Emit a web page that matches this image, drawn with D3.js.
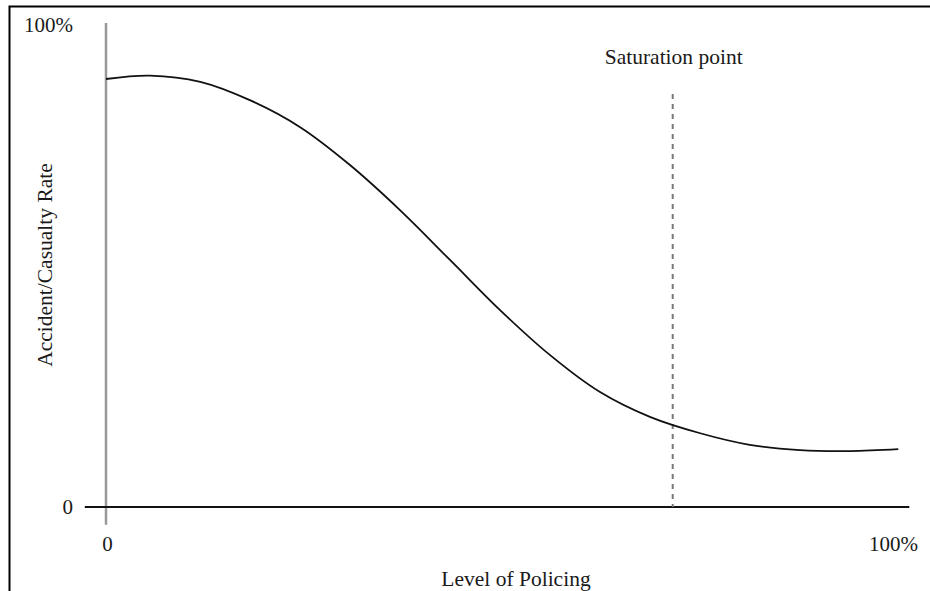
<!DOCTYPE html>
<html>
<head>
<meta charset="utf-8">
<script src="https://cdn.jsdelivr.net/npm/d3@7/dist/d3.min.js"></script>
<style>
  html, body { margin: 0; padding: 0; background: #fff; }
  svg { display: block; }
  text { font-family: "Liberation Serif", "Times New Roman", serif; fill: #1a1a1a; }
</style>
</head>
<body>
<svg id="chart" width="930" height="591"></svg>
<script>
// ---- data ----
const policing = [0, 5.6, 12.0, 18.3, 24.7, 31.0, 37.4, 43.8, 50.1, 56.5, 62.8, 69.2, 75.6, 81.9, 88.3, 94.7, 100.8];
const casualtyRate = [88.8, 89.5, 88.2, 84.4, 78.8, 71.0, 61.6, 51.2, 40.9, 31.5, 23.9, 18.7, 15.3, 12.9, 11.8, 11.6, 12.0];
const saturationX = 72.1;
const saturationTop = 85.7;
const xTicks = [0, 100];
const xTickLabels = ["0", "100%"];
const yTicks = [0, 100];
const yTickLabels = ["0", "100%"];
const xTitle = "Level of Policing";
const yTitle = "Accident/Casualty Rate";
const saturationLabel = "Saturation point";

const svg = d3.select("#chart");
const x = d3.scaleLinear().domain([0, 100]).range([106, 892]);
const y = d3.scaleLinear().domain([0, 100]).range([507, 25]);

// frame
svg.append("rect").attr("x", 9.5).attr("y", 6.5).attr("width", 1000).attr("height", 1000)
  .attr("fill", "none").attr("stroke", "#000").attr("stroke-width", 2);

// y axis line (grey)
svg.append("line")
  .attr("x1", x(0)).attr("x2", x(0))
  .attr("y1", y(100.4)).attr("y2", y(-3.7))
  .attr("stroke", "#999").attr("stroke-width", 2.5);

// x axis line
svg.append("line")
  .attr("x1", x(-2.7)).attr("x2", x(102.2))
  .attr("y1", y(0)).attr("y2", y(0))
  .attr("stroke", "#111").attr("stroke-width", 1.8);

// x tick labels
const xAxis = d3.axisBottom(x).tickValues(xTicks).tickSize(0).tickPadding(0)
  .tickFormat((d, i) => xTickLabels[i]);
const gx = svg.append("g").attr("transform", `translate(1,${y(0) + 29})`).call(xAxis);
gx.select(".domain").remove();
gx.selectAll("text").attr("font-size", 21).attr("fill", "#1a1a1a")
  .attr("font-family", "Liberation Serif, serif");

// y tick labels
const yAxis = d3.axisLeft(y).tickValues(yTicks).tickSize(0).tickPadding(0)
  .tickFormat((d, i) => yTickLabels[i]);
const gy = svg.append("g").attr("transform", `translate(73,0)`).call(yAxis);
gy.select(".domain").remove();
gy.selectAll("text").attr("font-size", 21).attr("fill", "#1a1a1a")
  .attr("font-family", "Liberation Serif, serif");

// saturation dashed line
svg.append("line")
  .attr("x1", x(saturationX)).attr("x2", x(saturationX))
  .attr("y1", y(saturationTop)).attr("y2", y(0))
  .attr("stroke", "#777").attr("stroke-width", 2)
  .attr("stroke-dasharray", "5,5");

svg.append("text")
  .attr("x", x(saturationX) + 1).attr("y", 64)
  .attr("text-anchor", "middle").attr("font-size", 21.5)
  .text(saturationLabel);

// curve
const pts = policing.map((p, i) => [p, casualtyRate[i]]);
const line = d3.line().x(d => x(d[0])).y(d => y(d[1])).curve(d3.curveCatmullRom.alpha(0.5));
svg.append("path").datum(pts)
  .attr("d", line)
  .attr("fill", "none").attr("stroke", "#111").attr("stroke-width", 1.8);

// axis titles
svg.append("text")
  .attr("x", 516).attr("y", 586)
  .attr("text-anchor", "middle").attr("font-size", 21.5)
  .text(xTitle);

svg.append("text")
  .attr("transform", "translate(52,265) rotate(-90)")
  .attr("text-anchor", "middle").attr("font-size", 21.5)
  .text(yTitle);
</script>
</body>
</html>
